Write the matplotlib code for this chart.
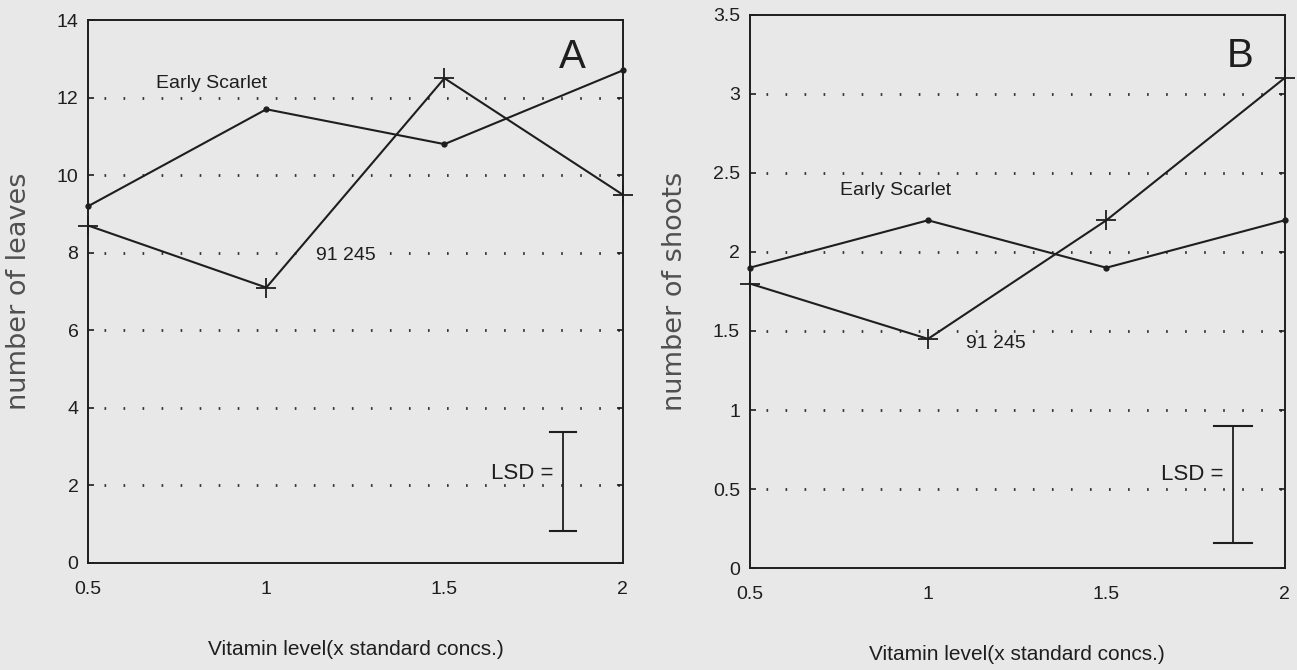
import matplotlib.pyplot as plt

# vitamin levels (x standard concs.)
vitamin = [0.5, 1.0, 1.5, 2.0]

# panel A: number of leaves
leaves_early = [9.2, 11.7, 10.8, 12.7]
leaves_91245 = [8.7, 7.1, 12.5, 9.5]
lsd_leaves = (0.82, 3.38)

# panel B: number of shoots
shoots_early = [1.9, 2.2, 1.9, 2.2]
shoots_91245 = [1.8, 1.45, 2.2, 3.1]
lsd_shoots = (0.16, 0.9)

xticks = [0.5, 1, 1.5, 2]
xticklabels = ["0.5", "1", "1.5", "2"]
yticks_a = [0, 2, 4, 6, 8, 10, 12, 14]
yticks_b = [0, 0.5, 1, 1.5, 2, 2.5, 3, 3.5]
yticklabels_b = ["0", "0.5", "1", "1.5", "2", "2.5", "3", "3.5"]

bg = "#e8e8e8"
ink = "#1e1e1e"
narrow = ["Liberation Sans Narrow", "Liberation Sans"]
wide = ["DejaVu Sans"]
arial = ["Liberation Sans"]

fig = plt.figure(figsize=(12.97, 6.7), dpi=100, facecolor=bg)
ax_a = fig.add_axes([0.068, 0.160, 0.412, 0.810])
ax_b = fig.add_axes([0.578, 0.152, 0.4125, 0.826])


def style(ax, yticks, ylabels, ymax, ylabel):
    ax.set_facecolor(bg)
    ax.set_xlim(0.5, 2)
    ax.set_ylim(0, ymax)
    ax.set_xticks(xticks)
    ax.set_xticklabels(xticklabels, family=narrow, fontsize=14, color=ink)
    ax.set_yticks(yticks)
    ax.set_yticklabels(ylabels, family=narrow, fontsize=14, color=ink)
    ax.tick_params(axis="x", length=0, pad=13)
    ax.tick_params(axis="y", direction="in", length=4, width=1.2,
                   color=ink, left=True, right=True, pad=7)
    for s in ax.spines.values():
        s.set_color(ink)
        s.set_linewidth(1.4)
    for y in yticks[1:-1]:
        ax.axhline(y, xmin=0.03, color="#333333", linestyle=(0, (0.6, 6.25)),
                   linewidth=2.0, zorder=1)
    ax.set_xlabel("Vitamin level(x standard concs.)", family=narrow,
                  fontsize=15, color=ink, labelpad=30)
    ax.set_ylabel(ylabel, family=wide, fontsize=19.5, color="#505050",
                  labelpad=18)


def lsd(ax, x, lo, hi, cap, ytext):
    ax.plot([x, x], [lo, hi], color=ink, lw=1.3)
    ax.plot([x - cap, x + cap], [lo, lo], color=ink, lw=1.5)
    ax.plot([x - cap, x + cap], [hi, hi], color=ink, lw=1.5)
    ax.text(x - 0.025, ytext, "LSD =", ha="right", va="center",
            family=arial, fontsize=16, color=ink)


# panel A
style(ax_a, yticks_a, [str(v) for v in yticks_a], 14, "number of leaves")
ax_a.plot(vitamin, leaves_early, color=ink, lw=1.5, marker="o", ms=3.5,
          clip_on=False, zorder=3)
ax_a.plot(vitamin, leaves_91245, color=ink, lw=1.5, marker="+", ms=15,
          mew=1.3, clip_on=False, zorder=3)
ax_a.text(0.847, 12.37, "Early Scarlet", family=narrow, fontsize=14,
          color=ink, ha="center", va="center")
ax_a.text(1.224, 7.94, "91 245", family=narrow, fontsize=14, zorder=2,
          color=ink, ha="center", va="center", backgroundcolor=bg)
ax_a.text(1.86, 13.04, "A", family=arial, fontsize=29, color=ink,
          ha="center", va="center")
lsd(ax_a, 1.832, *lsd_leaves, 0.037, 2.3)

# panel B
style(ax_b, yticks_b, yticklabels_b, 3.5, "number of shoots")
ax_b.plot(vitamin, shoots_early, color=ink, lw=1.5, marker="o", ms=3.5,
          clip_on=False, zorder=3)
ax_b.plot(vitamin, shoots_91245, color=ink, lw=1.5, marker="+", ms=15,
          mew=1.3, clip_on=False, zorder=3)
ax_b.text(0.91, 2.39, "Early Scarlet", family=narrow, fontsize=14,
          color=ink, ha="center", va="center")
ax_b.text(1.19, 1.42, "91 245", family=narrow, fontsize=14, zorder=2,
          color=ink, ha="center", va="center")
ax_b.text(1.875, 3.24, "B", family=arial, fontsize=29, color=ink,
          ha="center", va="center")
lsd(ax_b, 1.854, *lsd_shoots, 0.053, 0.59)

fig.savefig("out.png", dpi=100, facecolor=bg)
